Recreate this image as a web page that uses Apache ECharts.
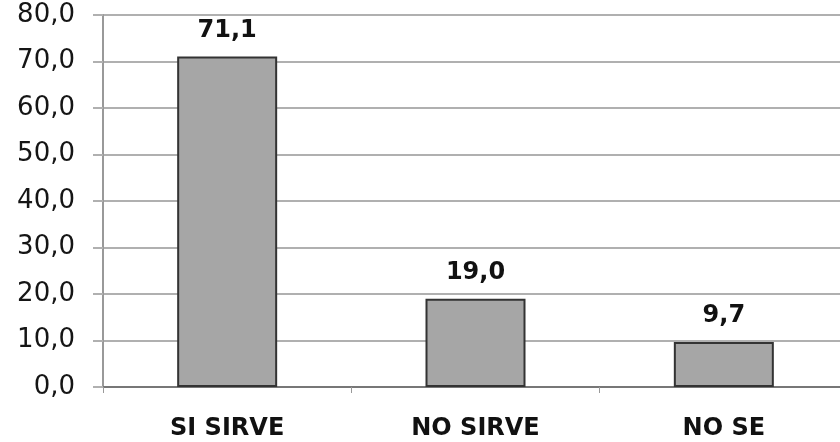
<!DOCTYPE html>
<html><head><meta charset="utf-8">
<script src="https://cdn.jsdelivr.net/npm/echarts@6/dist/echarts.min.js"></script>
<style>html,body{margin:0;padding:0;background:#fff}#c{width:840px;height:442px}</style>
</head><body><div id="c"></div>
<script>
const categories = ['SI SIRVE', 'NO SIRVE', 'NO SE'];
const values = [71.1, 19.0, 9.7];
const yTicks = [0, 10, 20, 30, 40, 50, 60, 70, 80];

const fmt = v => v.toFixed(1).replace('.', ',');
const chart = echarts.init(document.getElementById('c'), null, {renderer: 'canvas'});
chart.setOption({
  animation: false,
  backgroundColor: '#fff',
  grid: {left: 103, width: 745, top: 15, bottom: 55, containLabel: false, outerBoundsMode: 'none'},
  xAxis: {
    type: 'category',
    data: categories,
    axisLine: {lineStyle: {color: '#777', width: 2}},
    axisTick: {show: true, alignWithLabel: false, length: 6, lineStyle: {color: '#999', width: 1}},
    axisLabel: {margin: 30, color: '#111', fontFamily: 'DejaVu Sans', fontWeight: 'bold', fontSize: 24}
  },
  yAxis: {
    type: 'value',
    min: yTicks[0], max: yTicks[yTicks.length - 1], interval: 10,
    axisLine: {show: true, lineStyle: {color: '#999', width: 2}},
    axisTick: {show: true, length: 10, lineStyle: {color: '#b0b0b0', width: 2}},
    splitLine: {show: true, lineStyle: {color: '#b0b0b0', width: 2}},
    axisLabel: {margin: 28, color: '#151515', fontFamily: 'DejaVu Sans', fontSize: 26, formatter: v => fmt(v)}
  },
  series: [{
    type: 'bar',
    data: values,
    barWidth: 100,
    itemStyle: {color: '#a6a6a6', borderColor: '#333', borderWidth: 2},
    label: {show: true, position: 'top', distance: 14, color: '#111', fontFamily: 'DejaVu Sans', fontWeight: 'bold', fontSize: 24, formatter: p => fmt(p.value)}
  }]
});
</script></body></html>
